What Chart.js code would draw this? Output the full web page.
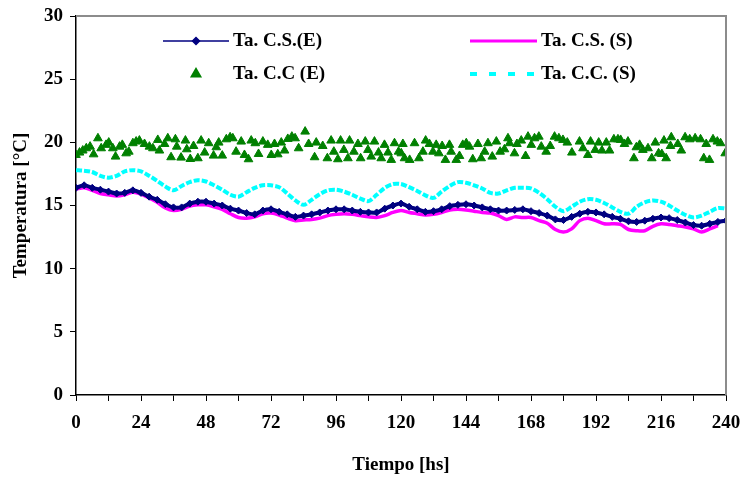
<!DOCTYPE html>
<html>
<head>
<meta charset="utf-8">
<script src="https://cdn.jsdelivr.net/npm/chart.js@4.4.1/dist/chart.umd.min.js"></script>
<style>
  html,body{margin:0;padding:0;background:#fff}
  #wrap{position:relative;width:741px;height:480px}
</style>
</head>
<body>
<div id="wrap"><canvas id="chart"></canvas></div>
<script>
// ─── DATA ───────────────────────────────────────────────────────────
// line series are read every 3 hours, 0..240
const HOURS = Array.from({length:81},(_,i)=>i*3);

const CS_E = [16.4,16.6,16.4,16.25,16.1,15.95,16.0,16.2,16.0,15.7,15.45,15.1,14.85,14.85,15.15,15.3,15.3,15.15,15.0,14.75,
  14.6,14.4,14.3,14.6,14.7,14.5,14.3,14.1,14.2,14.3,14.45,14.6,14.7,14.7,14.6,14.5,14.45,14.45,14.75,15.0,
  15.15,14.9,14.7,14.5,14.55,14.7,14.95,15.05,15.1,15.0,14.85,14.7,14.6,14.6,14.65,14.7,14.55,14.4,14.2,13.9,
  13.85,14.1,14.35,14.5,14.45,14.3,14.1,13.95,13.75,13.7,13.8,13.95,14.05,14.0,13.85,13.65,13.45,13.4,13.55,13.7,13.8];

const CS_S = [16.3,16.4,16.2,15.95,15.85,15.75,15.85,16.05,15.9,15.6,15.25,14.8,14.6,14.7,14.95,15.05,15.05,14.9,14.7,14.35,
  14.05,14.0,14.1,14.35,14.4,14.25,14.0,13.8,13.85,13.9,14.0,14.2,14.3,14.35,14.3,14.2,14.1,14.05,14.2,14.45,
  14.6,14.45,14.35,14.25,14.3,14.45,14.65,14.7,14.65,14.55,14.45,14.4,14.2,13.9,14.1,14.05,14.05,13.8,13.6,13.1,
  12.9,13.15,13.8,14.0,13.8,13.55,13.55,13.5,13.1,13.0,13.0,13.35,13.55,13.5,13.4,13.3,13.15,12.9,13.15,13.4,null];

const CC_S = [17.8,17.75,17.65,17.35,17.2,17.35,17.7,17.8,17.7,17.35,16.95,16.5,16.2,16.55,16.85,17.0,16.9,16.6,16.25,15.85,
  15.7,16.05,16.4,16.6,16.6,16.45,15.95,15.4,15.05,15.45,15.9,16.2,16.25,16.1,15.85,15.55,15.35,15.85,16.4,16.7,
  16.7,16.45,16.15,15.8,15.6,16.1,16.55,16.85,16.8,16.6,16.35,16.0,15.95,16.2,16.4,16.4,16.35,16.0,15.5,14.9,
  14.55,14.9,15.3,15.5,15.45,15.2,14.85,14.5,14.35,14.9,15.25,15.4,15.3,15.0,14.6,14.25,14.05,14.2,14.5,14.8,14.75];

// scattered readings (triangles)
const CC_E_HOURS = [0,1.3,2.5,3.8,5.2,6.5,8.1,9.3,11.1,12.1,13.6,14.6,16.1,17.1,18.5,19.5,21.0,22.2,23.4,25.3,27.1,28.4,30.2,30.8,32.7,33.9,35.1,36.7,37.2,38.8,40.4,40.9,42.2,43.4,45.0,46.2,47.5,49.0,50.8,51.8,52.7,54.0,55.5,56.9,57.9,59.1,
  61.0,62.2,63.7,64.7,66.2,67.4,69.0,70.8,72.1,73.3,74.5,75.8,77.0,78.2,79.7,80.9,82.2,84.6,85.9,88.1,88.7,91.1,92.8,94.2,95.2,96.7,97.7,98.9,100.4,101.0,102.6,104.1,105.1,106.8,107.8,109.0,110.2,111.7,112.7,113.9,115.2,116.4,117.6,119.1,120.7,
  120.1,121.3,123.2,125.0,126.6,128.1,129.1,130.5,131.8,133.0,134.0,135.2,136.4,137.9,138.5,140.4,141.6,142.8,144.1,145.3,146.5,148.4,149.6,150.9,152.1,153.7,155.2,156.6,158.2,159.5,160.1,161.9,162.8,164.4,166.0,166.9,168.1,169.3,170.9,171.8,173.6,175.1,176.7,178.3,179.8,
  181.4,183.1,185.9,187.2,189.0,190.0,191.7,193.0,194.2,195.8,197.0,198.6,200.1,201.1,202.5,203.8,206.0,206.9,208.1,209.3,211.2,212.6,213.9,215.1,216.3,217.1,217.9,219.5,219.8,222.2,223.5,224.9,226.6,228.6,230.6,231.8,232.7,233.9,235.2,236.8,238.0,239.7];
const CC_E_TEMP = [19.0,19.19,19.35,19.53,19.66,19.05,20.32,19.53,19.8,19.98,19.53,18.87,19.66,19.8,19.13,19.26,19.93,20.06,20.14,19.87,19.66,19.53,20.19,19.35,19.87,20.32,18.82,20.24,19.66,18.79,20.14,19.45,18.68,19.71,18.74,20.14,19.19,19.93,18.95,19.61,19.98,18.95,20.24,20.4,20.32,19.26,
  20.06,19.0,18.66,20.14,19.93,19.08,20.06,19.8,19.0,19.87,19.05,19.98,19.35,20.27,20.45,20.32,19.53,20.85,19.87,18.82,19.98,19.71,18.74,20.14,19.26,18.66,20.14,19.4,18.74,20.14,19.26,19.87,18.74,20.06,19.4,18.87,20.06,19.19,18.74,19.8,19.19,18.61,19.93,19.26,19.87,
  19.13,18.74,18.61,19.93,18.74,19.26,20.14,19.87,19.26,19.8,19.13,19.71,18.61,19.8,19.26,18.61,18.92,19.8,19.93,19.66,18.66,19.87,18.74,19.26,19.93,18.87,20.06,19.26,19.45,20.32,19.93,19.13,19.87,20.14,18.92,20.45,19.8,20.32,20.45,19.66,19.26,19.71,20.45,20.32,20.19,
  19.98,19.19,20.06,19.53,19.0,20.06,19.4,19.98,19.35,19.98,19.35,20.24,20.24,20.19,19.87,20.06,18.74,19.61,19.8,19.4,19.53,18.74,19.98,19.13,19.08,20.14,18.74,19.71,20.4,19.87,19.35,20.4,20.24,20.32,20.24,18.74,19.87,18.61,20.24,20.06,19.93,19.13];

const LABELS = ['Ta. C.S.(E)','Ta. C.S. (S)','Ta. C.C (E)','Ta. C.C. (S)'];

// ─── STYLE ──────────────────────────────────────────────────────────
const FONT = "'Liberation Serif','Times New Roman',serif";
const NAVY='#000080', MAGENTA='#ff00ff', GREEN='#008000', CYAN='#00ffff';

const pts = (xs,ys)=>xs.map((x,i)=>({x,y:ys[i]}));

// legend drawn by hand, two columns inside the plot
const legendPlugin = {
  id:'legendAndFrame',
  afterDraw(chart){
    const ctx=chart.ctx, a=chart.chartArea;
    ctx.save();
    // grey top/right frame
    ctx.strokeStyle='#8c8c8c'; ctx.lineWidth=2;
    ctx.beginPath(); ctx.moveTo(a.left,a.top); ctx.lineTo(a.right,a.top); ctx.lineTo(a.right,a.bottom); ctx.stroke();

    const items=[
      {x0:163,x1:229,y:41,text:LABELS[0],kind:'lineDot'},
      {x0:470,x1:537,y:41,text:LABELS[1],kind:'line'},
      {x0:163,x1:229,y:74,text:LABELS[2],kind:'tri'},
      {x0:470,x1:537,y:74,text:LABELS[3],kind:'dash'}
    ];
    items.forEach(it=>{
      const cx=(it.x0+it.x1)/2;
      ctx.setLineDash([]);
      if(it.kind==='lineDot'){
        ctx.strokeStyle=NAVY; ctx.lineWidth=1.5;
        ctx.beginPath(); ctx.moveTo(it.x0,it.y); ctx.lineTo(it.x1,it.y); ctx.stroke();
        ctx.fillStyle=NAVY; ctx.strokeStyle=NAVY;
        Chart.helpers.drawPoint(ctx,{pointStyle:'rectRot',radius:3.5,rotation:0,borderWidth:1},cx,it.y);
      } else if(it.kind==='line'){
        ctx.strokeStyle=MAGENTA; ctx.lineWidth=3;
        ctx.beginPath(); ctx.moveTo(it.x0,it.y); ctx.lineTo(it.x1,it.y); ctx.stroke();
      } else if(it.kind==='tri'){
        ctx.fillStyle=GREEN; ctx.strokeStyle=GREEN;
        Chart.helpers.drawPoint(ctx,{pointStyle:'triangle',radius:4,rotation:0,borderWidth:1},cx,it.y);
      } else {
        ctx.strokeStyle=CYAN; ctx.lineWidth=4; ctx.setLineDash([7,12]);
        ctx.beginPath(); ctx.moveTo(it.x0,it.y); ctx.lineTo(it.x1,it.y); ctx.stroke();
      }
      ctx.setLineDash([]);
      ctx.fillStyle='#000'; ctx.font='bold 19px '+FONT;
      ctx.textAlign='left'; ctx.textBaseline='middle';
      ctx.fillText(it.text,it.x1+4,it.y);
    });
    ctx.restore();
  }
};

const tickFont={family:FONT,size:19,weight:'bold'};

new Chart(document.getElementById('chart'),{
  type:'line',
  data:{datasets:[
    {label:LABELS[0],data:pts(HOURS,CS_E),borderColor:NAVY,backgroundColor:NAVY,borderWidth:4,
     pointStyle:'rectRot',pointRadius:3.5,pointBorderWidth:1,tension:0.3},
    {label:LABELS[1],data:pts(HOURS,CS_S),borderColor:MAGENTA,backgroundColor:MAGENTA,borderWidth:3.5,pointRadius:0,tension:0.3,spanGaps:false},
    {label:LABELS[2],data:pts(CC_E_HOURS,CC_E_TEMP),showLine:false,borderColor:GREEN,backgroundColor:GREEN,
     pointStyle:'triangle',pointRadius:5,pointBorderWidth:1},
    {label:LABELS[3],data:pts(HOURS,CC_S),borderColor:CYAN,backgroundColor:CYAN,borderWidth:4,borderDash:[6,2],pointRadius:0,tension:0.3}
  ]},
  options:{
    responsive:true,maintainAspectRatio:false,animation:false,
    layout:{padding:{top:16,right:15,left:0,bottom:0}},
    plugins:{legend:{display:false},tooltip:{enabled:false}},
    scales:{
      x:{type:'linear',min:0,max:240,
        ticks:{stepSize:12,autoSkip:false,maxRotation:0,color:'#000',font:tickFont,padding:11,
          callback:v=>v%24===0?String(v):''},
        grid:{drawOnChartArea:false,drawTicks:true,tickLength:6,color:'#000',lineWidth:1},
        border:{color:'#000',width:1.5},
        title:{display:true,text:'Tiempo [hs]',color:'#000',font:tickFont,padding:{top:0,bottom:4}},
        afterFit:s=>{s.height=85;s.paddingLeft=0;s.paddingRight=0;}
      },
      y:{min:0,max:30,
        ticks:{stepSize:5,color:'#000',font:tickFont,padding:7},
        grid:{drawOnChartArea:false,drawTicks:true,tickLength:6,color:'#000',lineWidth:1},
        border:{color:'#000',width:1.5},
        title:{display:true,text:'Temperatura [°C]',color:'#000',font:tickFont,padding:{top:10,bottom:0}},
        afterFit:s=>{s.width=76;s.paddingTop=0;s.paddingBottom=0;}
      }
    }
  },
  plugins:[legendPlugin]
});
</script>
</body>
</html>
